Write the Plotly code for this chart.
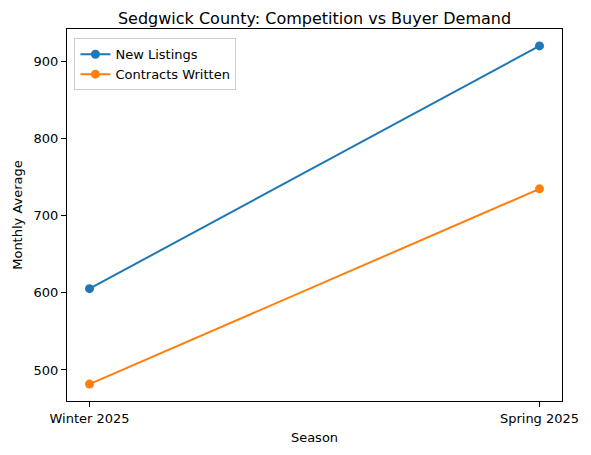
import plotly.graph_objects as go

seasons = ["Winter 2025", "Spring 2025"]
new_listings = [605.5, 920.5]
contracts_written = [481.7, 735.0]

x = list(range(len(seasons)))
allv = new_listings + contracts_written
lo, hi = min(allv), max(allv)
pad = (hi - lo) * 0.05

W, H = 583, 447  # page body has an 8px margin

fig = go.Figure()
fig.add_trace(go.Scatter(x=x, y=new_listings, mode="lines+markers", name="New Listings",
                         line=dict(color="#1f77b4", width=2), marker=dict(size=9, color="#1f77b4")))
fig.add_trace(go.Scatter(x=x, y=contracts_written, mode="lines+markers", name="Contracts Written",
                         line=dict(color="#ff7f0e", width=2), marker=dict(size=9, color="#ff7f0e")))

axis_common = dict(showline=True, linecolor="black", linewidth=1, mirror=True, ticks="outside",
                   ticklen=5, tickcolor="black", showgrid=False, zeroline=False, automargin=False,
                   tickfont=dict(size=13, color="black"))
fig.update_layout(
    width=W, height=H,
    margin=dict(l=59, r=29, t=21, b=54),
    plot_bgcolor="white", paper_bgcolor="white",
    font=dict(family="DejaVu Sans", size=13, color="black"),
    title=dict(text="Sedgwick County: Competition vs Buyer Demand", x=0.5, xanchor="center",
               xref="paper", y=1 - 10 / H, yanchor="middle", font=dict(size=16)),
    xaxis=dict(range=[-0.05, 1.05], tickvals=x, ticktext=seasons,
               title=dict(text="Season", font=dict(size=13), standoff=8), **axis_common),
    yaxis=dict(range=[lo - pad, hi + pad], tickvals=[500, 600, 700, 800, 900],
               title=dict(text="Monthly Average", font=dict(size=13), standoff=8), **axis_common),
    legend=dict(x=0.015, y=0.975, xanchor="left", yanchor="top", bgcolor="rgba(255,255,255,0.8)",
                bordercolor="#cccccc", borderwidth=1, font=dict(size=13)),
    showlegend=True,
)
fig.write_html("out.html")
